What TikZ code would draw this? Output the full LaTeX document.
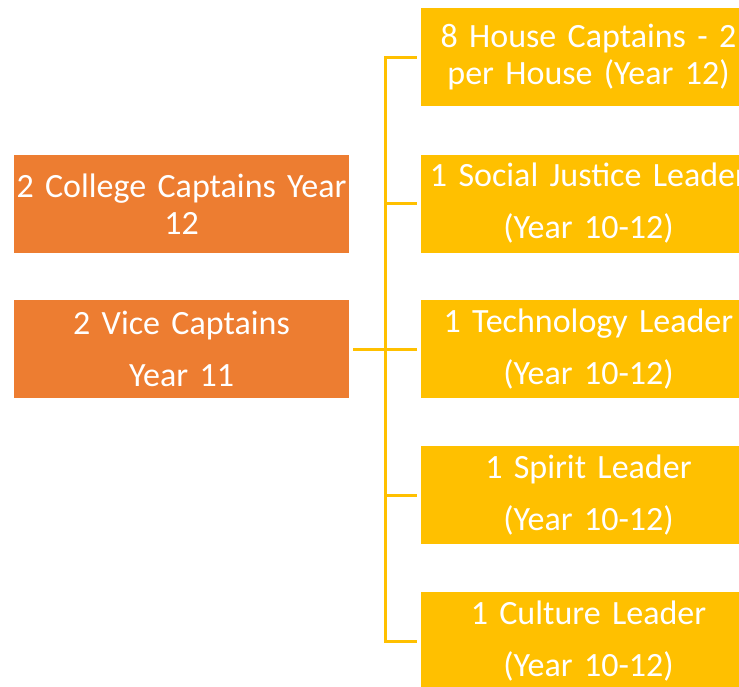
\documentclass[tikz,border=0pt]{standalone}
\usepackage{fontspec}
\setmainfont{Carlito}
\usepackage{tikz}
\definecolor{CaptainOrange}{RGB}{237,125,49}
\definecolor{LeaderGold}{RGB}{255,192,0}

\begin{document}
\begin{tikzpicture}[x=1pt,y=-1pt,
  role/.style={fill=#1,draw=none,minimum width=335pt,minimum height=98pt,inner sep=0pt,text width=335pt,align=center,text=white,font=\fontsize{34}{37}\selectfont},
  link/.style={LeaderGold,line width=3pt}]
\useasboundingbox (0,0) rectangle (739,686);
\clip (0,0) rectangle (739,686);
\node[role=CaptainOrange](c0) at (181.5,204) {2 College Captains Year\\12};
\node[role=CaptainOrange](c1) at (181.5,349) {2 Vice Captains\\[15pt]Year 11};
\foreach \y/\i/\t in %
{57/0/{8 House Captains - 2\\per House (Year 12)},
 203.5/1/{1 Social Justice Leader\\[15pt](Year 10-12)},
 349/2/{1 Technology Leader\\[15pt](Year 10-12)},
 495/3/{1 Spirit Leader\\[15pt](Year 10-12)},
 641/4/{1 Culture Leader\\[15pt](Year 10-12)}} {
   \node[role=LeaderGold](l\i) at (588.5,\y) {\t};
}
\coordinate (trunk) at (385,349);
\draw[link] ([xshift=4pt]c1.east) -- (trunk);
\draw[link] ([xshift=-4pt]l0.west) -- (trunk |- l0.west) -- (trunk |- l4.west) -- ([xshift=-4pt]l4.west);
\foreach \i in {1,2,3} {
   \draw[link] (trunk |- l\i.west) -- ([xshift=-4pt]l\i.west);
}
\end{tikzpicture}
\end{document}
